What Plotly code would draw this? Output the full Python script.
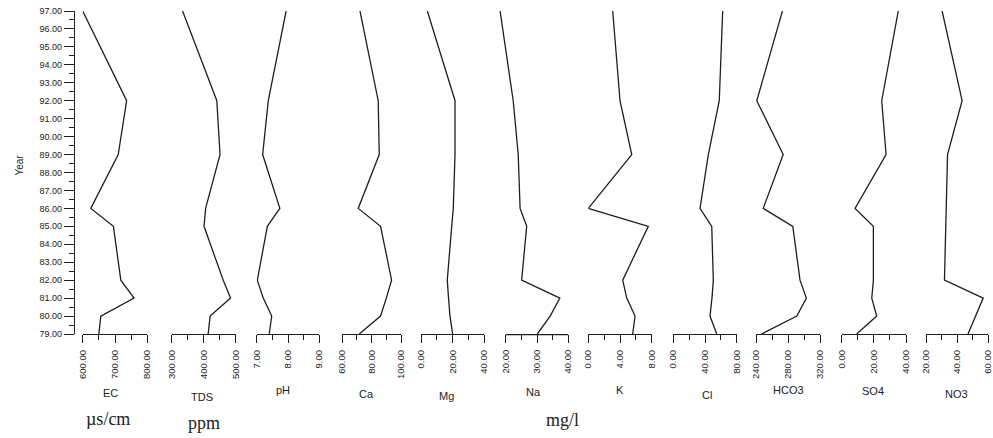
import plotly.graph_objects as go

W, H = 993, 438
T_PX, B_PX = 11, 334  # pixel rows of year 97 and year 79

years = [79, 80, 81, 82, 85, 86, 89, 92, 97]
year_ticks = list(range(79, 98))

EC = [650, 656, 759, 718, 695, 625, 710, 736, 600]
TDS = [414, 420, 484, 461, 401, 406, 451, 441, 334]
pH = [7.40, 7.48, 7.21, 7.02, 7.34, 7.74, 7.19, 7.37, 7.94]
Ca = [71.6, 86.1, 90.0, 93.6, 86.1, 70.9, 85.2, 84.5, 72.1]
Mg = [20.0, 18.3, 17.4, 16.6, 19.4, 20.4, 21.5, 21.5, 4.0]
Na = [30.1, 34.2, 37.3, 25.1, 26.7, 24.6, 24.0, 22.4, 18.2]
K = [5.6, 5.9, 4.85, 4.34, 7.57, 0.0, 5.48, 4.0, 3.08]
Cl = [54.8, 46.3, 48.8, 50.5, 48.5, 33.7, 44.2, 58.0, 62.3]
HCO3 = [247, 291, 303, 295, 286, 249, 274, 241, 273]
SO4 = [9.3, 21.8, 18.7, 19.7, 19.7, 8.3, 27.6, 24.9, 35.2]
NO3 = [47.1, 51.9, 56.9, 31.9, 32.9, 33.1, 33.9, 43.3, 30.4]

names = ["EC", "TDS", "pH", "Ca", "Mg", "Na", "K", "Cl", "HCO3", "SO4", "NO3"]
series = [EC, TDS, pH, Ca, Mg, Na, K, Cl, HCO3, SO4, NO3]
axis_min = [600, 300, 7, 60, 0, 20, 0, 0, 240, 0, 20]
axis_max = [800, 500, 9, 100, 40, 40, 8, 80, 320, 40, 60]
tick_labels = [
    ["600.00", "700.00", "800.00"],
    ["300.00", "400.00", "500.00"],
    ["7.00", "8.00", "9.00"],
    ["60.00", "80.00", "100.00"],
    ["0.00", "20.00", "40.00"],
    ["20.00", "30.00", "40.00"],
    ["0.00", "4.00", "8.00"],
    ["0.00", "40.00", "80.00"],
    ["240.00", "280.00", "320.00"],
    ["0.00", "20.00", "40.00"],
    ["20.00", "40.00", "60.00"],
]
# pixel extents of each panel axis
px_left = [82.7, 171.7, 256.7, 342.2, 421, 505.7, 588.3, 673.3, 756, 841.7, 926]
px_right = [147.3, 235.7, 319.3, 401, 484.3, 568.3, 651.7, 736.7, 820, 906, 988]
title_px = [(110, 393), (202, 397), (283, 390), (366, 394), (446, 396), (533, 392),
            (620, 390), (707, 395), (788, 390), (873, 391), (956, 394)]
# extra room on the left for panels whose line runs past the axis start
extra_left = [0, 0, 0, 0, 0, 3.0, 0, 0, 0, 0, 0]

ink = "#1e1e1e"
fig = go.Figure()
layout = {}
shapes = []
annotations = []

def py2paper(py):
    return (B_PX - py) / (B_PX - T_PX)

for i, (nm, vals) in enumerate(zip(names, series)):
    v0, v1 = axis_min[i], axis_max[i]
    a, b = px_left[i], px_right[i]
    scale = (b - a) / (v1 - v0)
    lo = v0 - extra_left[i]
    a_ext = a - extra_left[i] * scale
    key = "xaxis" if i == 0 else f"xaxis{i+1}"
    ref = "x" if i == 0 else f"x{i+1}"
    mid = (v0 + v1) / 2
    q = (v1 - v0) / 4
    layout[key] = dict(
        domain=[a_ext / W, b / W], range=[lo, v1], anchor="y",
        showline=extra_left[i] == 0, linecolor=ink, linewidth=1.3,
        ticks="outside", ticklen=8, tickwidth=1.3, tickcolor=ink,
        tickvals=[v0, mid, v1], ticktext=tick_labels[i], tickangle=-90,
        ticklabelstandoff=3, ticklabeloverflow="allow",
        tickfont=dict(family="Liberation Sans, Arial", size=9.5, color="#222"),
        minor=dict(tickvals=[v0 + q, v1 - q], ticks="outside", ticklen=5,
                   tickwidth=1.3, tickcolor=ink),
        showgrid=False, zeroline=False, fixedrange=True,
    )
    if extra_left[i]:
        yl = -0.65 / (B_PX - T_PX)
        shapes.append(dict(type="line", xref=ref, yref="paper", x0=v0, x1=v1,
                           y0=yl, y1=yl, line=dict(color=ink, width=1.3)))
    fig.add_trace(go.Scatter(x=vals, y=years, mode="lines", xaxis=ref, yaxis="y",
                             line=dict(color=ink, width=1.3), showlegend=False,
                             hoverinfo="skip"))
    tx, ty = title_px[i]
    annotations.append(dict(text=nm, x=tx / W, y=py2paper(ty), xref="paper", yref="paper",
                            showarrow=False, xanchor="center", yanchor="middle",
                            font=dict(family="Liberation Sans, Arial", size=11, color="#222")))

layout["yaxis"] = dict(
    range=[79, 97], domain=[0, 1], anchor="free", position=74 / W, side="left",
    showline=True, linecolor=ink, linewidth=1.3,
    ticks="outside", ticklen=10, tickwidth=1.3, tickcolor=ink,
    tickvals=year_ticks, ticktext=[f"{y:.2f}" for y in year_ticks],
    tickfont=dict(family="Liberation Sans, Arial", size=9, color="#222"),
    minor=dict(tickvals=[y + 0.5 for y in year_ticks[:-1]], ticks="outside",
               ticklen=5, tickwidth=1.3, tickcolor=ink),
    showgrid=False, zeroline=False, fixedrange=True,
)

annotations.append(dict(text="Year", x=12 / W, y=py2paper(165), xref="paper", yref="paper",
                        showarrow=False, textangle=-90,
                        font=dict(family="Liberation Sans, Arial", size=10, color="#222")))
for txt, x, y in [("µs/cm", 108, 419), ("ppm", 204, 423), ("mg/l", 562, 420)]:
    annotations.append(dict(text=txt, x=x / W, y=py2paper(y), xref="paper", yref="paper",
                            showarrow=False, xanchor="center", yanchor="middle",
                            font=dict(family="Liberation Serif, Times New Roman", size=18,
                                      color="#222")))

fig.update_layout(
    width=W, height=H, margin=dict(l=0, r=0, t=T_PX, b=H - B_PX, autoexpand=False),
    paper_bgcolor="white", plot_bgcolor="white",
    shapes=shapes, annotations=annotations, showlegend=False,
    **layout,
)
fig.write_html("out.html", config={"displayModeBar": False},
               post_script="document.body.style.margin='0';document.body.style.overflow='hidden';")
